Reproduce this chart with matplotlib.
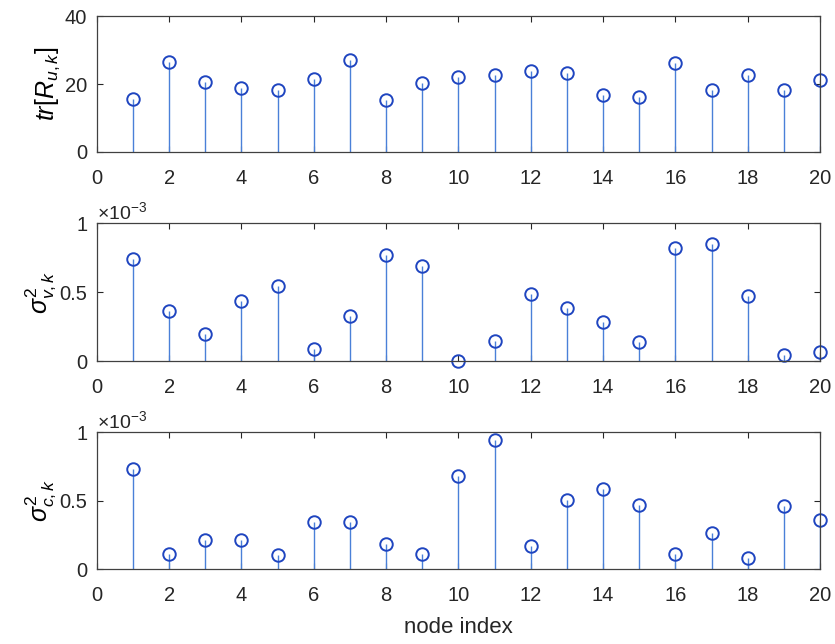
import matplotlib
matplotlib.use("Agg")
import matplotlib.pyplot as plt
from matplotlib.ticker import ScalarFormatter
import numpy as np

plt.rcParams['font.family'] = ['Liberation Sans', 'DejaVu Sans']
plt.rcParams['mathtext.fontset'] = 'custom'
plt.rcParams['mathtext.rm'] = 'Liberation Sans'
plt.rcParams['mathtext.it'] = 'Liberation Sans:italic'
plt.rcParams['mathtext.bf'] = 'Liberation Sans:bold'

nodes = list(range(1, 21))
tr_R = [15.5, 26.5, 20.7, 18.7, 18.3, 21.6, 27.0, 15.4, 20.2, 22.2,
        22.8, 23.7, 23.2, 16.9, 16.3, 26.1, 18.3, 22.8, 18.3, 21.2]
sigma_v = [0.744, 0.366, 0.198, 0.437, 0.549, 0.090, 0.327, 0.771, 0.693, 0.005,
           0.149, 0.488, 0.388, 0.283, 0.137, 0.822, 0.854, 0.476, 0.044, 0.068]
sigma_c = [0.728, 0.115, 0.213, 0.213, 0.105, 0.348, 0.348, 0.186, 0.115, 0.679,
           0.946, 0.167, 0.507, 0.588, 0.471, 0.115, 0.262, 0.081, 0.461, 0.358]
sigma_v = [v * 1e-3 for v in sigma_v]
sigma_c = [v * 1e-3 for v in sigma_c]

ylabels = [r'$tr[R_{u,k}]$', r'$\sigma^2_{v,k}$', r'$\sigma^2_{c,k}$']
ylims = [(0, 40), (0, 1e-3), (0, 1e-3)]
yticks = [[0, 20, 40], [0, 0.5e-3, 1e-3], [0, 0.5e-3, 1e-3]]
series = [tr_R, sigma_v, sigma_c]

marker_color = '#1f45c0'
line_color = '#4a80d8'
spine_color = '#404040'
text_color = '#262626'


class GFormatter(ScalarFormatter):
    def _set_format(self):
        self.format = '%g'


fig = plt.figure(figsize=(8.35, 6.44), dpi=100)
positions = [
    [0.116, 0.764, 0.866, 0.211],
    [0.116, 0.439, 0.866, 0.214],
    [0.116, 0.116, 0.866, 0.213],
]

for i, (pos, data) in enumerate(zip(positions, series)):
    ax = fig.add_axes(pos)
    ml, sl, bl = ax.stem(nodes, data, basefmt=' ')
    plt.setp(sl, color=line_color, linewidth=1.0)
    plt.setp(ml, marker='o', markersize=9, markerfacecolor='none',
             markeredgecolor=marker_color, markeredgewidth=1.4)
    ml.set_clip_on(False)
    ax.set_xlim(0, 20)
    ax.set_ylim(*ylims[i])
    ax.set_xticks(range(0, 21, 2))
    ax.set_yticks(yticks[i])
    ax.tick_params(direction='in', top=True, right=True, labelsize=14.5,
                   length=4, width=0.8, colors=text_color, pad=7)
    ax.tick_params(axis='x', pad=12)
    for s in ax.spines.values():
        s.set_color(spine_color)
        s.set_linewidth(0.9)
    if i == 0:
        ax.set_ylabel(ylabels[i], fontsize=18, labelpad=2)
    else:
        fmt = GFormatter(useMathText=True)
        fmt.set_powerlimits((-3, -3))
        ax.yaxis.set_major_formatter(fmt)
        ax.yaxis.get_offset_text().set_fontsize(14)
        ax.yaxis.get_offset_text().set_color(text_color)
        ax.set_ylabel(ylabels[i], fontsize=18, labelpad=1)
    if i == 2:
        ax.set_xlabel('node index', fontsize=16, color=text_color, labelpad=9)

fig.savefig('out.png', dpi=100)
